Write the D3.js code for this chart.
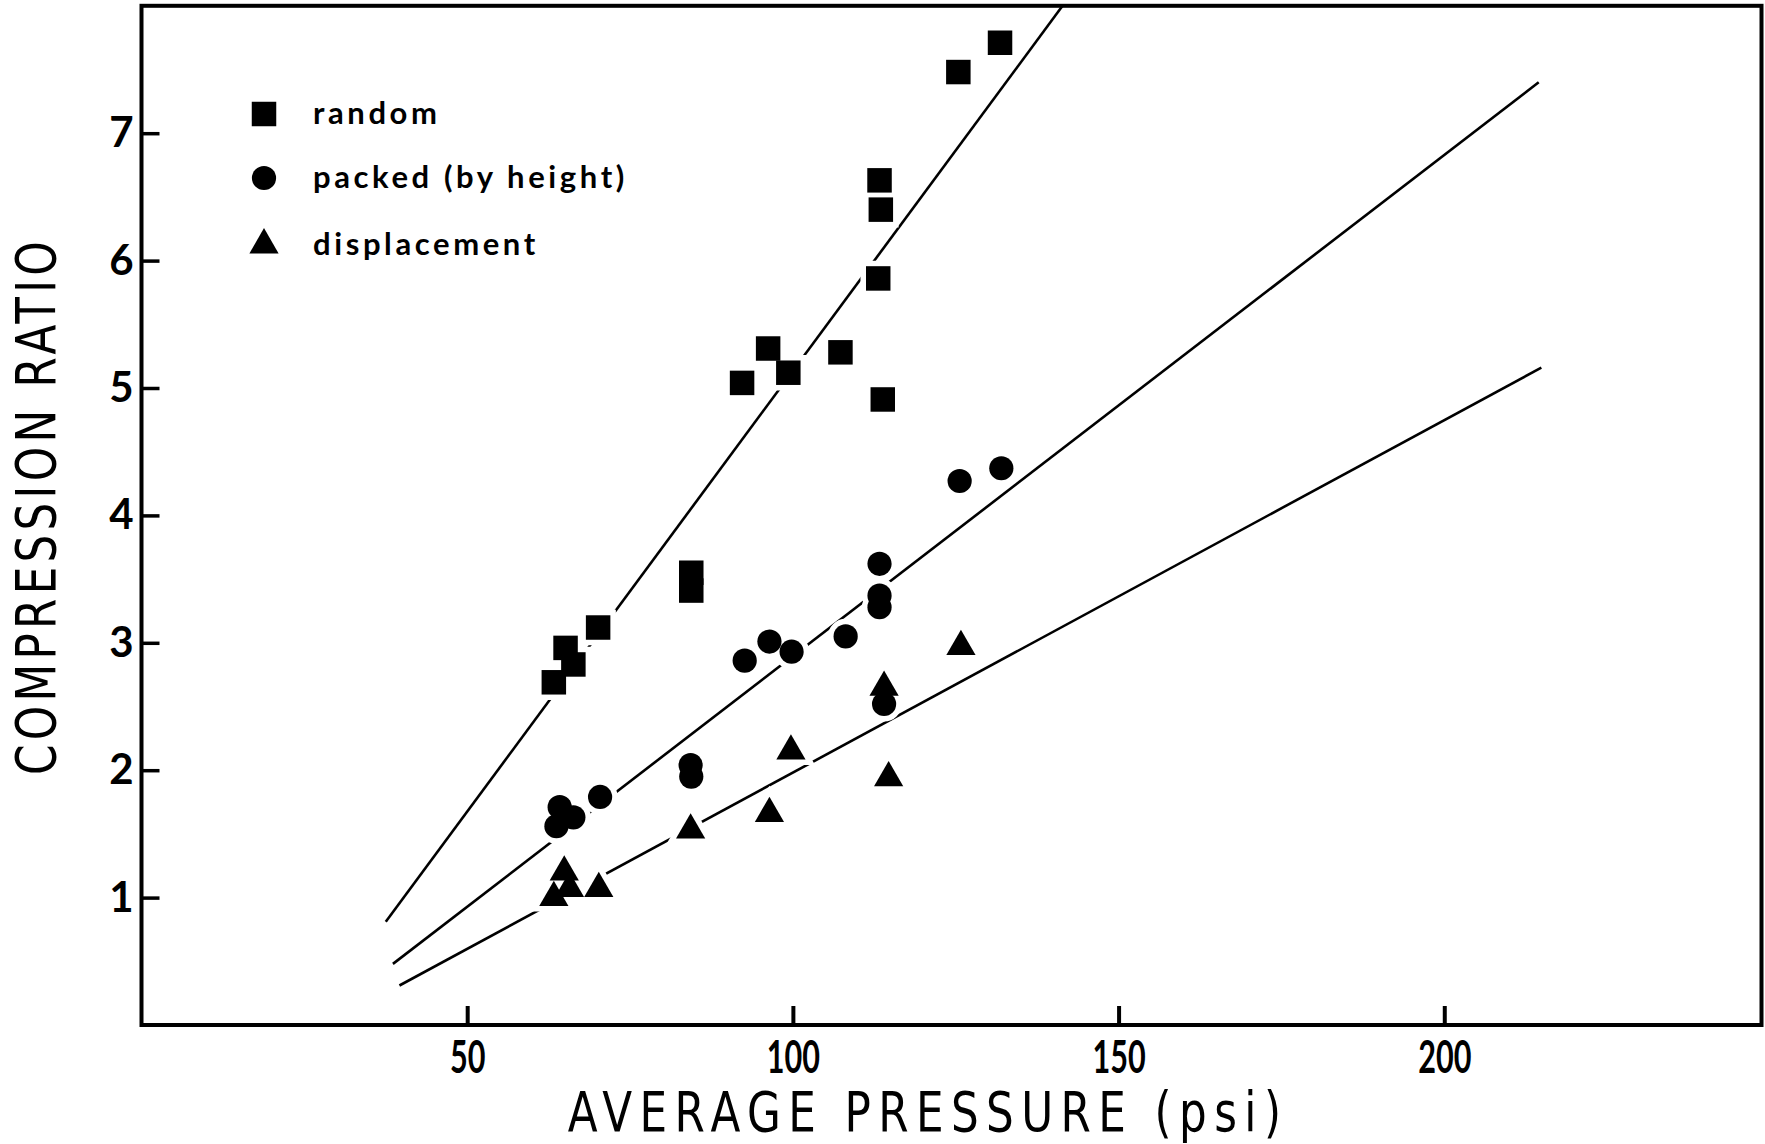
<!DOCTYPE html>
<html>
<head>
<meta charset="utf-8">
<script src="https://cdn.jsdelivr.net/npm/d3@7"></script>
<style>
  body { margin: 0; background: #fff; }
  svg { display: block; }
  .tick-y { font-family: Lato, "DejaVu Sans", sans-serif; font-weight: 700; font-size: 42px; }
  .tick-x { font-family: Lato, "DejaVu Sans", sans-serif; font-weight: 700; font-size: 45px; }
  .title { font-family: "DejaVu Sans", sans-serif; font-size: 56px; }
  .legend { font-family: Lato, "DejaVu Sans", sans-serif; font-weight: 700; font-size: 31px; letter-spacing: 3.6px; }
</style>
</head>
<body>
<svg id="chart" width="1765" height="1144"></svg>
<script>
// values (average pressure in psi, compression ratio)
var randomX = [63.3, 65.1, 66.3, 70.1, 84.4, 84.4, 92.2, 96.2, 99.3, 107.3, 113.1, 113.3, 113.5, 113.8, 125.4, 131.8];
var randomY = [2.69, 2.96, 2.83, 3.12, 3.55, 3.41, 5.04, 5.31, 5.12, 5.28, 5.86, 6.63, 6.40, 4.91, 7.48, 7.71];

var packedX = [63.7, 64.2, 66.3, 70.4, 84.3, 84.4, 92.6, 96.4, 99.8, 108.1, 113.3, 113.3, 113.3, 114.0, 125.6, 132.0];
var packedY = [1.56, 1.71, 1.63, 1.79, 2.04, 1.95, 2.86, 3.01, 2.93, 3.05, 3.62, 3.37, 3.28, 2.52, 4.27, 4.37];

var displX = [63.3, 64.9, 65.7, 70.2, 84.3, 96.4, 99.7, 114.0, 114.7, 125.8];
var displY = [1.00, 1.20, 1.07, 1.07, 1.53, 1.66, 2.15, 2.65, 1.94, 2.97];

// fitted lines: [x1, y1, x2, y2]
var randomFit = [37.5, 0.81, 141.4, 8.0];
var packedFit = [38.6, 0.48, 214.5, 7.40];
var displFit  = [39.6, 0.31, 214.9, 5.16];

var xTicks = [50, 100, 150, 200];
var yTicks = [1, 2, 3, 4, 5, 6, 7];

var legendNames = ["random", "packed (by height)", "displacement"];

var svg = d3.select("#chart");

var x = d3.scaleLinear().domain([0, 248.7]).range([141.5, 1761.5]);
var y = d3.scaleLinear().domain([0, 8]).range([1025, 5.8]);

// frame
svg.append("rect")
    .attr("x", x(0)).attr("y", y(8))
    .attr("width", x(248.7) - x(0)).attr("height", y(0) - y(8))
    .attr("fill", "none").attr("stroke", "#000").attr("stroke-width", 4);

// axes, ticks pointing inward
var xAxis = svg.append("g").attr("transform", "translate(0," + y(0) + ")")
    .call(d3.axisBottom(x).tickValues(xTicks).tickSize(-19));
xAxis.select(".domain").remove();
xAxis.selectAll("line").attr("stroke-width", 4);
xAxis.selectAll("text")
    .attr("class", "tick-x").attr("font-size", null).attr("font-family", null)
    .attr("y", 48).attr("dy", null)
    .attr("transform", "scale(0.68,1)");

var yAxis = svg.append("g").attr("transform", "translate(" + x(0) + ",0)")
    .call(d3.axisLeft(y).tickValues(yTicks).tickSize(-18).tickPadding(8));
yAxis.select(".domain").remove();
yAxis.selectAll("line").attr("stroke-width", 3.5);
yAxis.selectAll("text").attr("class", "tick-y").attr("font-size", null).attr("font-family", null);

// titles (condensed, spaced lettering)
svg.append("text").attr("class", "title")
    .attr("transform", "translate(928,1131) scale(0.78,1)")
    .attr("text-anchor", "middle").attr("letter-spacing", 9.5)
    .text("AVERAGE PRESSURE (psi)");
svg.append("text").attr("class", "title")
    .attr("transform", "translate(55,506) rotate(-90) scale(0.78,1)")
    .attr("text-anchor", "middle").attr("letter-spacing", 5.5)
    .text("COMPRESSION RATIO");

// fitted lines
[randomFit, packedFit, displFit].forEach(function(f) {
    svg.append("line")
        .attr("x1", x(f[0])).attr("y1", y(f[1]))
        .attr("x2", x(f[2])).attr("y2", y(f[3]))
        .attr("stroke", "#000").attr("stroke-width", 2.6);
});

var sqSym = d3.symbol().type(d3.symbolSquare).size(600);
var ciSym = d3.symbol().type(d3.symbolCircle).size(460);
var trSym = d3.symbol().type(d3.symbolTriangle).size(370);

var series = [
    {xs: randomX, ys: randomY, sym: sqSym},
    {xs: packedX, ys: packedY, sym: ciSym},
    {xs: displX, ys: displY, sym: trSym}
];

// white halos first so the lines break around the markers
var halo = svg.append("g");
var marks = svg.append("g");
series.forEach(function(s) {
    var pts = s.xs.map(function(v, i) { return [v, s.ys[i]]; });
    halo.selectAll(null).data(pts).enter().append("path")
        .attr("d", s.sym())
        .attr("transform", function(d) { return "translate(" + x(d[0]) + "," + y(d[1]) + ")"; })
        .attr("fill", "#fff").attr("stroke", "#fff").attr("stroke-width", 11);
    marks.selectAll(null).data(pts).enter().append("path")
        .attr("d", s.sym())
        .attr("transform", function(d) { return "translate(" + x(d[0]) + "," + y(d[1]) + ")"; })
        .attr("fill", "#000");
});

// legend
var legendSyms = [sqSym, ciSym, trSym];
var legendY = [114, 178, 245];
var lg = svg.append("g");
legendNames.forEach(function(name, i) {
    lg.append("path").attr("d", legendSyms[i]())
        .attr("transform", "translate(264," + legendY[i] + ")").attr("fill", "#000");
    lg.append("text").attr("class", "legend")
        .attr("x", 313).attr("y", legendY[i]).attr("dy", "0.32em")
        .text(name);
});
</script>
</body>
</html>
